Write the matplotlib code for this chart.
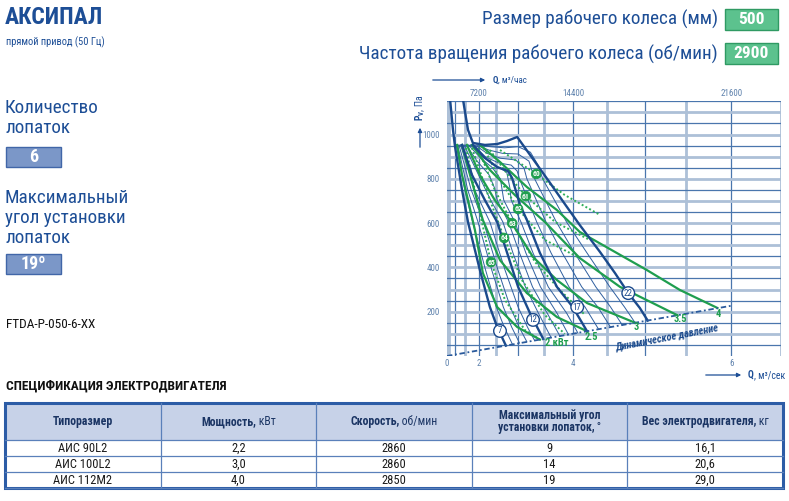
import numpy as np
import matplotlib
matplotlib.use("Agg")
import matplotlib.pyplot as plt
from matplotlib.patches import Rectangle

plt.rcParams['font.family'] = ['Roboto Condensed', 'DejaVu Sans']
plt.rcParams['mathtext.fontset'] = 'custom'
plt.rcParams['mathtext.rm'] = 'Roboto Condensed'
plt.rcParams['mathtext.bf'] = 'Roboto Condensed:bold'
plt.rcParams['mathtext.it'] = 'Roboto Condensed:italic'

DARK = "#1d4e96"
LINE = "#1b4a8c"
THIN = "#2f5f9f"
GREEN = "#1f9e4f"
GRID_DARK = "#4a76ad"
GRID_PALE = "#adc0d7"
TICK = "#5f82ad"

# ---- fan curves, Q in m3/s, Pv in Pa ----
angle_labels = [7, 12, 17, 22]
q_a7 = [0.62, 0.87, 1.01, 1.38, 1.63, 2.04, 2.33, 2.52, 2.73]
p_a7 = [1160, 1021, 944, 750, 605, 388, 221, 131, 47]
q_a12 = [1.38, 1.78, 2.19, 2.52, 2.76, 3.00, 3.24, 3.49]
p_a12 = [953, 817, 704, 605, 465, 312, 194, 77]
q_a17 = [1.81, 2.19, 2.52, 2.78, 2.87, 3.04, 3.18, 3.43, 3.73, 3.99, 4.21]
p_a17 = [953, 894, 853, 835, 804, 682, 614, 465, 312, 221, 112]
q_a22 = [1.42, 1.51, 1.63, 1.81, 2.19, 2.52, 2.76, 2.98, 3.34, 3.61, 3.86, 4.10,
         4.40, 4.61, 4.79, 4.94, 5.04]
p_a22 = [1160, 1102, 1021, 962, 953, 957, 971, 989, 876, 782, 687, 591,
         470, 375, 284, 217, 160]
label_q = [2.59, 3.30, 4.06, 4.79]
label_p = [113, 163, 221, 284]

# intermediate blade angles (thin lines)
thin_q = [
    [1.08, 1.50, 1.80, 2.21, 2.50, 2.69, 2.88],
    [1.16, 1.62, 1.98, 2.38, 2.67, 2.86, 3.03],
    [1.23, 1.75, 2.15, 2.54, 2.83, 3.02, 3.18],
    [1.31, 1.87, 2.33, 2.71, 3.00, 3.19, 3.33],
    [1.47, 1.85, 2.12, 2.35, 2.66, 2.89, 3.15, 3.40, 3.63],
    [1.56, 1.95, 2.30, 2.45, 2.52, 2.79, 3.03, 3.29, 3.56, 3.78],
    [1.65, 2.05, 2.40, 2.60, 2.68, 2.93, 3.16, 3.44, 3.73, 3.92],
    [1.73, 2.12, 2.48, 2.75, 2.82, 2.85, 3.06, 3.30, 3.58, 3.89, 4.07],
    [1.84, 2.20, 2.55, 2.85, 2.98, 3.03, 3.37, 3.63, 3.93, 4.18, 4.38],
    [1.88, 2.25, 2.60, 2.95, 3.12, 3.18, 3.54, 3.82, 4.13, 4.37, 4.55],
    [1.93, 2.30, 2.65, 3.00, 3.22, 3.33, 3.72, 4.02, 4.34, 4.55, 4.71],
    [1.98, 2.35, 2.70, 3.00, 3.25, 3.40, 3.48, 3.89, 4.21, 4.54, 4.74, 4.88],
]
thin_p = [
    [953, 750, 605, 388, 221, 131, 52],
    [953, 750, 605, 388, 221, 131, 58],
    [953, 750, 605, 388, 221, 131, 64],
    [953, 750, 605, 388, 221, 131, 70],
    [953, 860, 780, 704, 605, 465, 312, 194, 83],
    [953, 880, 820, 760, 704, 605, 465, 312, 194, 90],
    [953, 895, 850, 800, 704, 605, 465, 312, 194, 97],
    [953, 900, 860, 830, 760, 704, 605, 465, 312, 194, 104],
    [953, 900, 872, 862, 835, 800, 605, 465, 312, 221, 121],
    [953, 915, 893, 885, 850, 800, 605, 465, 312, 221, 130],
    [953, 930, 915, 912, 880, 800, 605, 465, 312, 221, 140],
    [953, 945, 940, 945, 920, 860, 800, 605, 465, 312, 221, 150],
]
stall_q = [1.01, 1.81]
stall_p = [953, 953]

# power lines, kW
kw_labels = ["2 кВт", "2.5", "3", "3.5", "4"]
kw_q = [
    [1.13, 1.38, 1.63, 1.88, 2.13, 2.52, 2.98, 3.43],
    [1.38, 1.71, 1.95, 2.13, 2.59, 3.18, 3.73, 4.21],
    [1.59, 2.04, 2.46, 2.82, 3.30, 3.73, 4.21, 4.88],
    [1.78, 2.33, 2.93, 3.52, 4.10, 4.68, 5.40],
    [2.04, 2.59, 3.18, 3.73, 4.10, 4.61, 5.03, 5.43, 5.85],
]
kw_p = [
    [953, 817, 704, 569, 375, 221, 131, 74],
    [953, 817, 704, 614, 433, 284, 176, 112],
    [953, 817, 704, 614, 447, 343, 239, 150],
    [953, 840, 727, 605, 442, 312, 184],
    [953, 876, 763, 659, 560, 470, 388, 298, 217],
]
kw_label_q = [3.52, 4.28, 4.90, 5.43, 5.86]
kw_label_p = [59, 86, 131, 167, 190]

# efficiency lines, %
eff_labels = ["60", "61", "62", "63", "64", "65"]
eff_q = [
    [2.59, 3.00, 3.36, 3.86, 4.40],
    [2.33, 2.78, 3.16, 3.70, 4.25],
    [2.16, 2.59, 3.00, 3.52, 4.10],
    [1.98, 2.46, 2.87, 3.34, 3.78, 4.18],
    [1.78, 2.28, 2.69, 3.08, 3.52, 3.86],
    [1.55, 1.98, 2.36, 2.71, 3.14, 3.43],
]
eff_p = [
    [930, 876, 822, 727, 637],
    [930, 817, 722, 605, 524],
    [939, 795, 664, 524, 442],
    [939, 750, 600, 424, 298, 185],
    [939, 727, 533, 343, 185, 100],
    [939, 682, 424, 253, 117, 74],
]
eff_label_q = [3.36, 3.16, 3.00, 2.87, 2.69, 2.36]
eff_label_p = [822, 722, 664, 600, 533, 424]

# dynamic pressure
dyn_q = [0.0, 6.0]
dyn_p = [0, 227]

x_ticks = [0, 2, 4, 6]
top_ticks = [2, 4, 6]
top_labels = ["7200", "14400", "21600"]
y_ticks = [200, 400, 600, 800, 1000]

# ---- motor table ----
col_heads = [
    [[("Типоразмер", "bold")]],
    [[("Мощность,", "bold"), (" кВт", "normal")]],
    [[("Скорость,", "bold"), (" об/мин", "normal")]],
    [[("Максимальный угол", "bold")], [("установки лопаток,", "bold"), (" °", "normal")]],
    [[("Вес электродвигателя,", "bold"), (" кг", "normal")]],
]
motor_type = ["АИС 90L2", "АИС 100L2", "АИС 112М2"]
motor_power = ["2,2", "3,0", "4,0"]
motor_speed = ["2860", "2860", "2850"]
motor_angle = ["9", "14", "19"]
motor_weight = ["16,1", "20,6", "29,0"]

fig = plt.figure(figsize=(7.89, 5.01), dpi=100)
lay = fig.add_axes([0, 0, 1, 1])
lay.set_xlim(0, 789)
lay.set_ylim(501, 0)
lay.axis("off")
r = fig.canvas.get_renderer()


def mixed(x0, cy, parts, size, color, anchor="center"):
    objs = [lay.text(0, cy, s, fontsize=size, fontweight=w, color=color,
                     ha="left", va="center") for s, w in parts]
    ws = [o.get_window_extent(renderer=r).width for o in objs]
    x = x0 - sum(ws) / 2 if anchor == "center" else x0
    for o, w in zip(objs, ws):
        o.set_x(x)
        x += w


# header
lay.text(5, 17, "АКСИПАЛ", fontsize=17, fontweight="bold", color=DARK, va="center")
lay.text(6, 42, "прямой привод (50 Гц)", fontsize=7.5, color=DARK, va="center")
lay.text(718, 19, "Размер рабочего колеса (мм)", fontsize=13.8, color=DARK, ha="right", va="center")
lay.text(718, 54, "Частота вращения рабочего колеса (об/мин)", fontsize=13.8, color=DARK,
         ha="right", va="center")
for y0, txt in [(9, "500"), (43, "2900")]:
    lay.add_patch(Rectangle((725, y0), 53, 21, fc="#5cc28e", ec="#2f9a63", lw=1))
    lay.text(751.5, y0 + 10.5, txt, fontsize=12.5, fontweight="bold", color="white",
             ha="center", va="center")

lay.text(5, 118, "Количество\nлопаток", fontsize=13.8, color=DARK, va="center", linespacing=1.12)
lay.text(5, 218, "Максимальный\nугол установки\nлопаток", fontsize=13.8, color=DARK,
         va="center", linespacing=1.12)
for y0, txt in [(147, "6"), (254, "19º")]:
    lay.add_patch(Rectangle((6, y0), 55, 20, fc="#7b97c8", ec="#4166a8", lw=1))
    lay.text(33.5, y0 + 10, txt, fontsize=13, fontweight="bold", color="white",
             ha="center", va="center")
lay.text(6, 325, "FTDA-P-050-6-XX", fontsize=9.5, color="#111111", va="center")
lay.text(6, 386, "СПЕЦИФИКАЦИЯ ЭЛЕКТРОДВИГАТЕЛЯ", fontsize=9.6, fontweight="bold",
         color="#111111", va="center")

# table
tx0, tx1 = 5, 783
ty0, th, rh = 403, 37, 16
cw = (tx1 - tx0) / 5
lay.add_patch(Rectangle((tx0, ty0), tx1 - tx0, th, fc="#c7d2e8", ec="none"))
for i in range(4):
    yy = ty0 + th + i * rh
    lay.plot([tx0, tx1], [yy, yy], color="#5a80ba", lw=0.9)
for j in range(1, 5):
    xx = tx0 + j * cw
    lay.plot([xx, xx], [ty0, ty0 + th + 3 * rh], color="#5a80ba", lw=0.9)
lay.add_patch(Rectangle((tx0, ty0), tx1 - tx0, th + 3 * rh, fc="none", ec="#2c5ca6", lw=2.2))

for j, lines in enumerate(col_heads):
    cx = tx0 + (j + 0.5) * cw
    n = len(lines)
    for k, parts in enumerate(lines):
        cy = ty0 + th / 2 + (k - (n - 1) / 2) * 12.5
        mixed(cx, cy, parts, 8.5, "#1b3564")

cols = [motor_type, motor_power, motor_speed, motor_angle, motor_weight]
for j, col in enumerate(cols):
    for i, val in enumerate(col):
        lay.text(tx0 + (j + 0.5) * cw, ty0 + th + (i + 0.5) * rh, val, fontsize=9,
                 color="#1a1a1a", ha="center", va="center")

# ---- chart ----
ax = fig.add_axes([447 / 789, 145 / 501, 333.8 / 789, 254.7 / 501])
ax.set_xscale("function", functions=(lambda q: np.sign(q) * q ** 2,
                                     lambda s: np.sign(s) * np.sqrt(np.abs(s))))
ax.set_xlim(0, 6.5)
ax.set_ylim(0, 1150)
for s in ax.spines.values():
    s.set_visible(False)

for gq in np.arange(0.5, 6.51, 0.5):
    half = abs(gq - round(gq)) > 0.1
    ax.axvline(gq, color=GRID_PALE if half else GRID_DARK, lw=2.0 if half else 0.9, zorder=1)
ax.axvline(0, color=GRID_PALE, lw=2.0, zorder=1)
for gp in np.arange(50, 1151, 50):
    full = gp % 100 == 0
    ax.axhline(gp, color=GRID_PALE if full else GRID_DARK, lw=2.0 if full else 0.9, zorder=1)

ax.set_xticks(x_ticks)
ax.set_xticklabels([str(v) for v in x_ticks])
ax.set_yticks(y_ticks)
ax.tick_params(length=0, labelsize=6.5, colors=TICK, pad=2)
ax.tick_params(axis="y", pad=5)
for q, lab in zip(top_ticks, top_labels):
    ax.text(q, 1.012, lab, transform=ax.get_xaxis_transform(), fontsize=6.5, color=TICK,
            ha="center", va="bottom")

# thin curves
for q, p in zip(thin_q, thin_p):
    ax.plot(q, p, color=THIN, lw=0.7, zorder=2)
ax.plot(stall_q, stall_p, color=THIN, lw=1.0, zorder=2)

# efficiency
for q, p in zip(eff_q, eff_p):
    ax.plot(q, p, color="#2fae5a", lw=1.4, ls=(0, (1, 1.2)), zorder=3)
for q, p, lab in zip(eff_label_q, eff_label_p, eff_labels):
    ax.text(q, p, lab, fontsize=5.5, fontweight="bold", color="white", ha="center", va="center",
            zorder=6, bbox=dict(boxstyle="circle,pad=0.12", fc=GREEN, ec=GREEN, lw=0.6))

# power
for q, p in zip(kw_q, kw_p):
    ax.plot(q, p, color=GREEN, lw=1.6, zorder=3)
for q, p, lab in zip(kw_label_q, kw_label_p, kw_labels):
    ax.text(q, p, lab, fontsize=7.5, fontweight="bold", color=GREEN,
            ha="left" if lab.endswith("Вт") else "center", va="center", zorder=6)

# thick blade-angle curves
for q, p in [(q_a7, p_a7), (q_a12, p_a12), (q_a17, p_a17), (q_a22, p_a22)]:
    ax.plot(q, p, color=LINE, lw=1.7, zorder=4)
for q, p, lab in zip(label_q, label_p, angle_labels):
    ax.text(q, p, str(lab), fontsize=6.5, color=LINE, ha="center", va="center", zorder=6,
            bbox=dict(boxstyle="circle,pad=0.2", fc="white", ec=LINE, lw=1.0))

# dynamic pressure
ax.plot(dyn_q, dyn_p, color="#2a5a9c", lw=1.3, ls=(0, (3, 1.5, 1, 1.5)), zorder=5)
d0 = ax.transData.transform((dyn_q[0], dyn_p[0]))
d1 = ax.transData.transform((dyn_q[1], dyn_p[1]))
ang = np.degrees(np.arctan2(d1[1] - d0[1], d1[0] - d0[0]))
ax.text(5.28, 86, "Динамическое давление", fontsize=7.5, fontweight="bold", style="italic",
        color=LINE, rotation=ang + 1, ha="center", va="center", zorder=6)

# axis titles with arrows
arr = dict(arrowstyle="-|>", color=DARK, lw=0.9, mutation_scale=6)
lay.annotate("", xy=(488, 80), xytext=(430, 80), arrowprops=arr)
mixed(493, 80, [("Q", "bold"), (", м³/час", "normal")], 6.5, DARK, anchor="left")
lay.annotate("", xy=(744, 375), xytext=(703, 375), arrowprops=arr)
mixed(748, 375, [("Q", "bold"), (", м³/сек", "normal")], 7, DARK, anchor="left")
lay.annotate("", xy=(420, 125), xytext=(420, 150), arrowprops=arr)
lay.text(420, 108, r"$\mathbf{P_V}$, Па", fontsize=7, color=DARK, rotation=90,
         ha="center", va="center")

fig.savefig("out.png", dpi=100)
